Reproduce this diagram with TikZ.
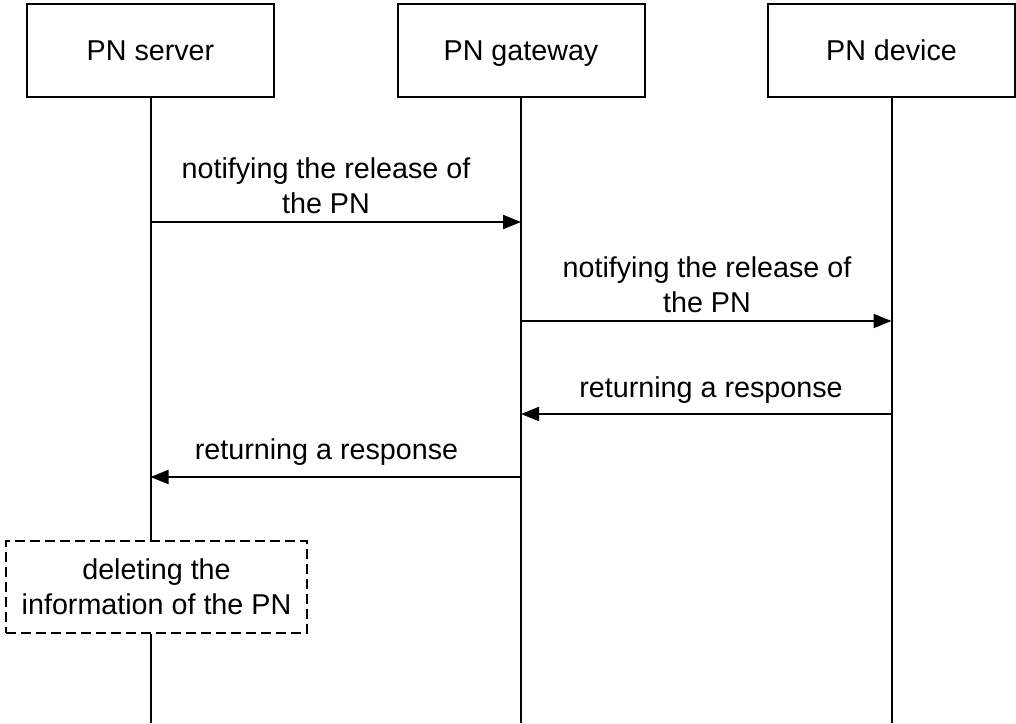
\documentclass[tikz,border=0pt]{standalone}
\usepackage{fontspec}
\setmainfont{Liberation Sans}
\usetikzlibrary{arrows.meta}
\tikzset{
  lbl/.style={font=\fontsize{14.35}{17.5}\selectfont, inner sep=0pt, align=center},
  actor/.style={draw, line width=1pt, minimum width=123.5pt, minimum height=46.5pt, inner sep=0pt, text height=10.4pt, text depth=0pt, font=\fontsize{14.35}{17.5}\selectfont},
  life/.style={line width=1pt},
  msg/.style={line width=1pt, -{Triangle[length=9pt,width=7pt]}},
  note/.style={draw, line width=1pt, dash pattern=on 5pt off 2.5pt, minimum width=150.5pt, minimum height=46pt, inner sep=0pt, align=center, font=\fontsize{14.35}{17.5}\selectfont}
}
\begin{document}
\begin{tikzpicture}[x=0.5pt,y=-0.5pt]
\useasboundingbox (0,0) rectangle (1016,723);
\node[actor] (s) at (150.5,50.5) {PN server};
\node[actor] (g) at (521,50.5) {PN gateway};
\node[actor] (d) at (891.5,50.5) {PN device};
\node[note] (del) at (156.5,586.7) {deleting the\\information of the PN};
\coordinate (bot) at (0,723);
\coordinate (y1) at (0,222);
\coordinate (y2) at (0,321);
\coordinate (y3) at (0,414);
\coordinate (y4) at (0,477);
% lifelines
\draw[life] (s.south) -- (s.south |- del.north);
\draw[life] (s.south |- del.south) -- (s.south |- bot);
\draw[life] (g.south) -- (g.south |- bot);
\draw[life] (d.south) -- (d.south |- bot);
% messages
\draw[msg] (s.south |- y1) -- (g.south |- y1);
\draw[msg] (g.south |- y2) -- (d.south |- y2);
\draw[msg] (d.south |- y3) -- (g.south |- y3);
\draw[msg] (g.south |- y4) -- (s.south |- y4);
% labels
\node[lbl, anchor=base] (l1) at (326,213) {notifying the release of\\the PN};
\node[lbl, anchor=base] (l2) at (707,312) {notifying the release of\\the PN};
\node[lbl, anchor=base] (l3) at (711,397) {returning a response};
\node[lbl, anchor=base] (l4) at (326.5,459) {returning a response};
\end{tikzpicture}
\end{document}
